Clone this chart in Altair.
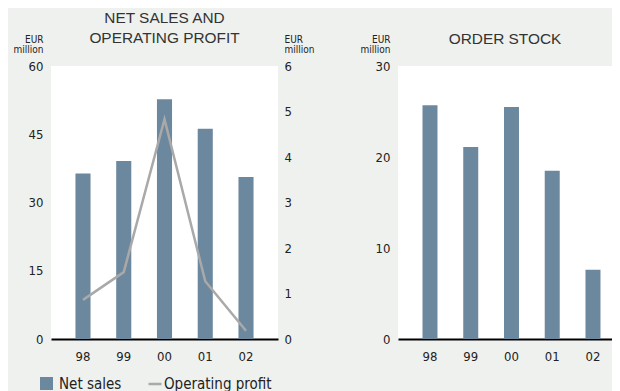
import altair as alt
import pandas as pd

years = ["98", "99", "00", "01", "02"]
net_sales = [36.4, 39.1, 52.7, 46.2, 35.6]
op_profit = [0.86, 1.47, 4.83, 1.27, 0.18]
order_stock = [25.7, 21.1, 25.5, 18.5, 7.6]
left_ticks = [0, 15, 30, 45, 60]
right_ticks = [0, 1, 2, 3, 4, 5, 6]
order_ticks = [0, 10, 20, 30]

BG = "#eff1ee"
BAR = "#6c889e"
LINE = "#a9a9a9"
TXT = "#222222"
LF = "'DejaVu Sans Condensed', 'Roboto Condensed', Roboto, sans-serif"
TF = "Liberation Sans"

df1 = pd.DataFrame({"year": years, "net": net_sales, "op": op_profit,
                    "s1": "Net sales", "s2": "Operating profit"})
df2 = pd.DataFrame({"year": years, "order": order_stock})

xaxis = alt.Axis(title=None, ticks=False, tickSize=0, domain=True, domainColor="#000000",
                 domainWidth=2, labelFont=LF, labelFontSize=13, labelColor=TXT,
                 labelPadding=11, labelAngle=0, labelBaseline="top", grid=False)
X1 = alt.X("year:N", scale=alt.Scale(domain=years, paddingInner=0.63, paddingOuter=0.6),
           axis=xaxis, sort=years)
X2 = alt.X("year:N", scale=alt.Scale(domain=years, paddingInner=0.632, paddingOuter=0.442,
                                     align=0.68),
           axis=xaxis, sort=years)


def yaxis(values, orient):
    left = orient == "left"
    return alt.Axis(orient=orient, values=values, title=["EUR", "million"], titleAngle=0,
                    titleAlign="right" if left else "left", titleBaseline="top",
                    titleX=-8 if left else 6, titleY=-32, titleFont=LF, titleFontSize=10,
                    titleFontWeight="normal", titleLineHeight=10, titleColor=TXT,
                    labelFont=LF, labelFontSize=13, labelColor=TXT,
                    labelPadding=8 if left else 6,
                    ticks=False, tickSize=0, domain=False, grid=False)


def title(text, offset):
    return alt.TitleParams(text, font=TF, fontSize=15.4, fontWeight="normal", color="#333333",
                           lineHeight=20, frame="group", anchor="middle", baseline="top",
                           offset=offset)


bars = alt.Chart(df1).mark_bar().encode(
    x=X1,
    y=alt.Y("net:Q", scale=alt.Scale(domain=[0, 60]), axis=yaxis(left_ticks, "left")),
    color=alt.Color("s1:N", scale=alt.Scale(domain=["Net sales"], range=[BAR]),
                    legend=alt.Legend(title=None, orient="none", legendX=-12, legendY=310,
                                      symbolType="square", symbolSize=169, symbolStrokeWidth=0,
                                      symbolOpacity=1, labelFont=LF, labelFontSize=15,
                                      labelColor=TXT, labelOffset=5, padding=0)),
)
line = alt.Chart(df1).mark_line(strokeWidth=2.5).encode(
    x=X1,
    y=alt.Y("op:Q", scale=alt.Scale(domain=[0, 6]), axis=yaxis(right_ticks, "right")),
    color=alt.Color("s2:N", scale=alt.Scale(domain=["Operating profit"], range=[LINE]),
                    legend=alt.Legend(title=None, orient="none", legendX=96, legendY=310,
                                      symbolType="stroke", symbolSize=169, symbolStrokeWidth=2.5,
                                      labelFont=LF, labelFontSize=15, labelColor=TXT,
                                      labelOffset=1, padding=0)),
)
left = alt.layer(bars, line).resolve_scale(y="independent", color="independent").properties(
    width=227, height=273, title=title(["NET SALES AND", "OPERATING PROFIT"], -12))

right = alt.Chart(df2).mark_bar(color=BAR).encode(
    x=X2,
    y=alt.Y("order:Q", scale=alt.Scale(domain=[0, 30]), axis=yaxis(order_ticks, "left")),
).properties(width=214, height=273, title=title("ORDER STOCK", -13))

chart = alt.hconcat(left, right, spacing=120, bounds="flush").properties(
    background=BG, padding={"left": 5, "top": 2, "right": 0, "bottom": 0}
).configure_view(fill="white", stroke=None)

chart.save("out.html", embed_options={"renderer": "svg", "actions": False})
